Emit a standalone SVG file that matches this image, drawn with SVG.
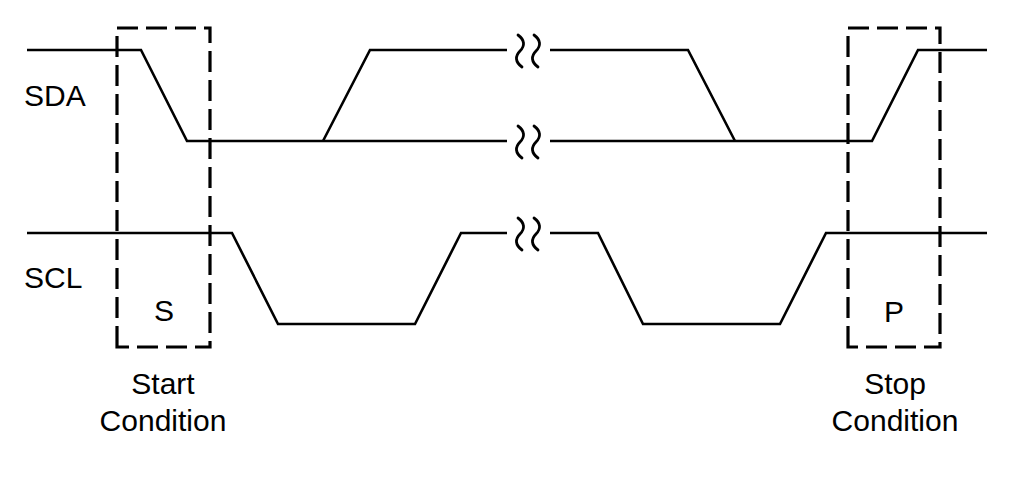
<svg xmlns="http://www.w3.org/2000/svg" width="1013" height="478" viewBox="0 0 1013 478">
<style>
.sig{fill:none;stroke:#000;stroke-width:2.6;stroke-linejoin:miter}
.brk{fill:none;stroke:#000;stroke-width:2.8;stroke-linecap:round}
.box{fill:none;stroke:#000;stroke-width:3.2;stroke-dasharray:21 8}
text{font-family:"Liberation Sans",Arial,sans-serif;font-size:30px;fill:#000}
.c{text-anchor:middle}
</style>
<defs>
<path id="sq" d="M-2,-16 C5,-11 5,-5 0,0 S-5,11 2,16"/>
</defs>
<rect width="1013" height="478" fill="#fff"/>
<g id="signals">
<path class="sig" d="M27,50 H141 L187,141 H507 M550,141 H872 L918,50 H987"/>
<path class="sig" d="M323,141 L370,50 H507 M550,50 H688 L735,141"/>
<path class="sig" d="M27,233 H232 L278,324 H415 L461,233 H507 M550,233 H598 L643,324 H780 L826,233 H987"/>
</g>
<g id="breaks">
<use href="#sq" class="brk" x="520" y="51"/>
<use href="#sq" class="brk" x="536" y="51"/>
<use href="#sq" class="brk" x="520" y="142"/>
<use href="#sq" class="brk" x="536" y="142"/>
<use href="#sq" class="brk" x="520" y="234"/>
<use href="#sq" class="brk" x="536" y="234"/>
</g>
<g id="start">
<path class="box" d="M117,347 V28 H210 V347 Z"/>
<text class="c" x="164" y="321">S</text>
<text class="c" x="163" y="394">Start</text>
<text class="c" x="163" y="431">Condition</text>
</g>
<g id="stop">
<path class="box" d="M848,347 V28 H940 V347 Z"/>
<text class="c" x="894" y="322">P</text>
<text class="c" x="895" y="394">Stop</text>
<text class="c" x="895" y="431">Condition</text>
</g>
<g id="labels">
<text x="24" y="106">SDA</text>
<text x="24" y="288">SCL</text>
</g>
</svg>
